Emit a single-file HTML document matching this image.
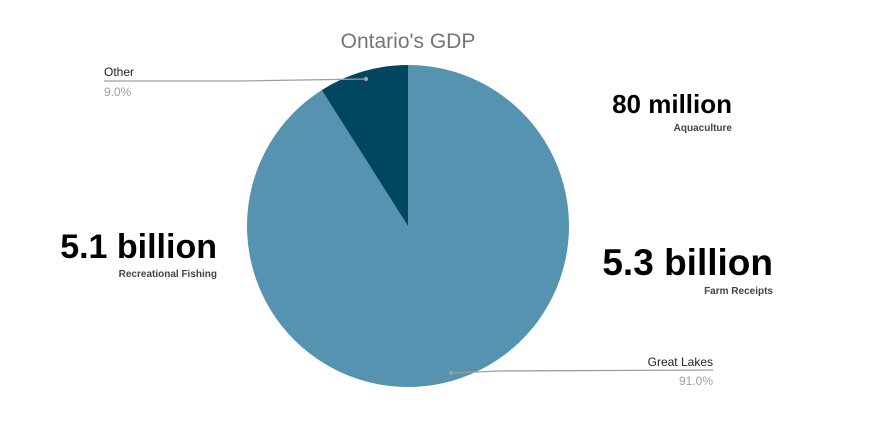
<!DOCTYPE html>
<html><head><meta charset="utf-8"><style>
body{margin:0;background:#fff;}
svg{display:block;font-family:"Liberation Sans",Arial,sans-serif;}
</style></head><body>
<svg id="chart" width="872" height="435">
<rect width="872" height="435" fill="#fff"/>
<text x="408" y="48" text-anchor="middle" font-size="21" fill="#757575">Ontario's GDP</text>
<g id="slices"></g>
<g>
<polyline points="104,81 240,81 366,79" fill="none" stroke="#9e9e9e" stroke-width="1.3"/>
<circle cx="366" cy="79" r="2.2" fill="#9e9e9e"/>
<text x="104" y="76" font-size="12" fill="#222">Other</text>
<text x="104" y="96" font-size="12" fill="#9e9e9e">9.0%</text>
</g>
<g>
<polyline points="451,373 500,371 713,370" fill="none" stroke="#9e9e9e" stroke-width="1.3"/>
<circle cx="451" cy="373" r="2.2" fill="#9e9e9e"/>
<text x="713" y="366" text-anchor="end" font-size="12" fill="#222">Great Lakes</text>
<text x="713" y="385" text-anchor="end" font-size="12" fill="#9e9e9e">91.0%</text>
</g>
<g font-weight="bold" fill="#000">
<text x="732" y="113" text-anchor="end" font-size="26">80 million</text>
<text x="732" y="131" text-anchor="end" font-size="10" fill="#444">Aquaculture</text>
<text x="217" y="258" text-anchor="end" font-size="34">5.1 billion</text>
<text x="217" y="277" text-anchor="end" font-size="10" fill="#444">Recreational Fishing</text>
<text x="773" y="275" text-anchor="end" font-size="37">5.3 billion</text>
<text x="773" y="294" text-anchor="end" font-size="10" fill="#444">Farm Receipts</text>
</g>
</svg>
<script>
const categories = ["Great Lakes", "Other"];
const values = [91.0, 9.0];
const colors = ["#5593b0", "#00465f"];
const cx = 408, cy = 226, r = 161;
const g = document.getElementById('slices');
const total = values.reduce((a,b)=>a+b,0);
let start = 0;
values.forEach((v,i)=>{
  const a0 = start/total*2*Math.PI, a1 = (start+v)/total*2*Math.PI;
  start += v;
  const x0 = cx + r*Math.sin(a0), y0 = cy - r*Math.cos(a0);
  const x1 = cx + r*Math.sin(a1), y1 = cy - r*Math.cos(a1);
  const large = (a1-a0) > Math.PI ? 1 : 0;
  const p = document.createElementNS('http://www.w3.org/2000/svg','path');
  p.setAttribute('d', `M${cx},${cy} L${x0},${y0} A${r},${r} 0 ${large} 1 ${x1},${y1} Z`);
  p.setAttribute('fill', colors[i]);
  
  
  g.appendChild(p);
});
</script>
</body></html>
